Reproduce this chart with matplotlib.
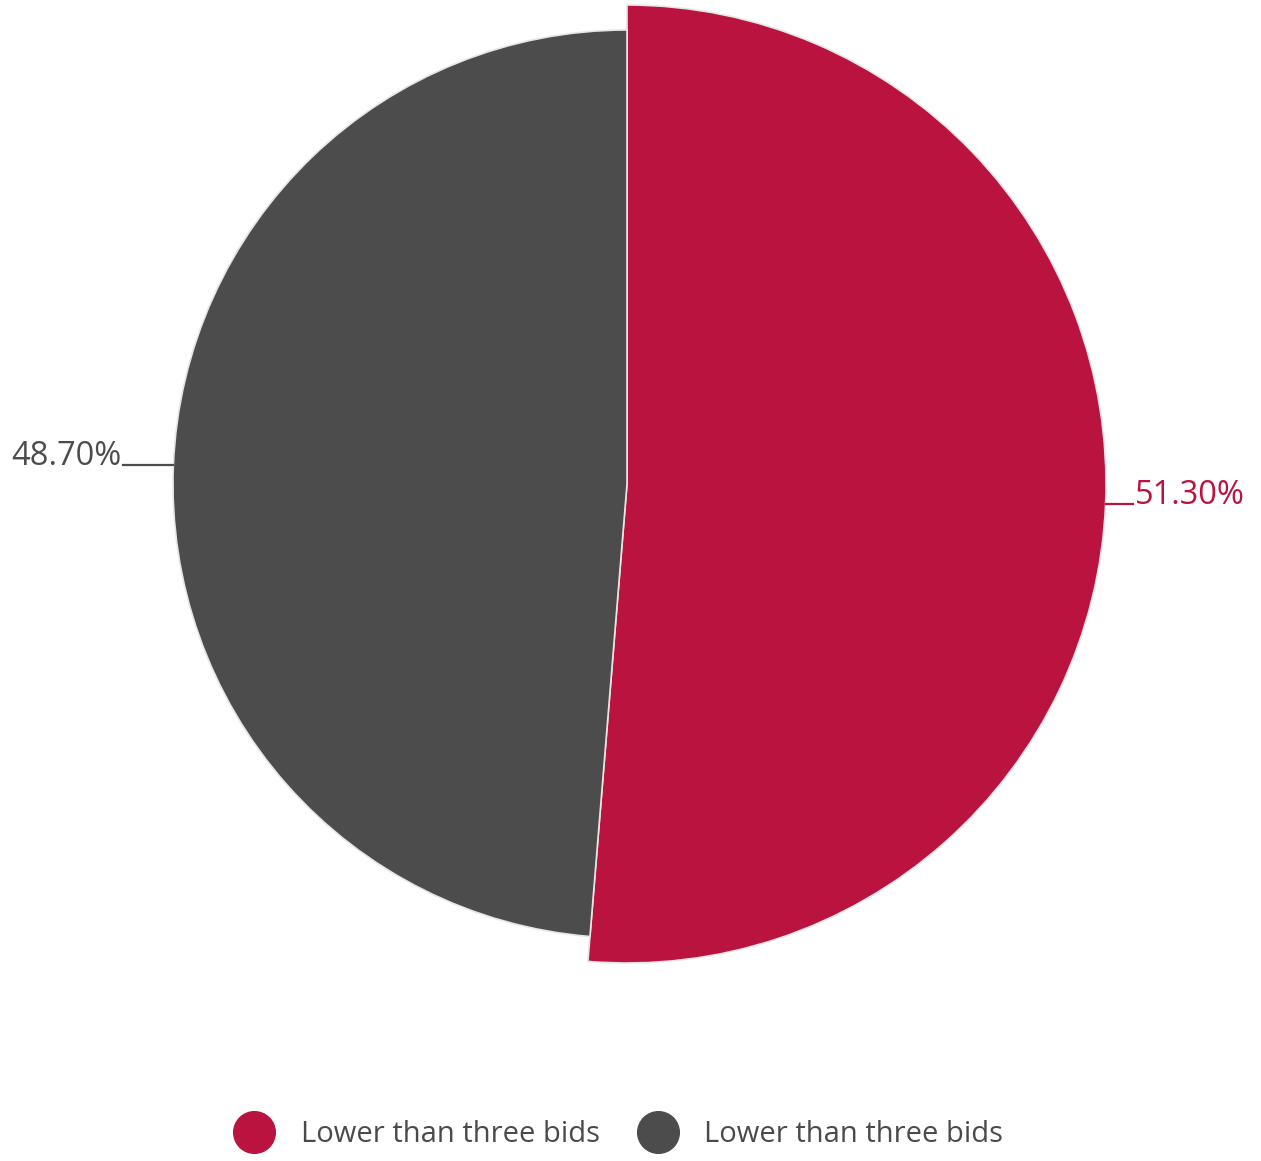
import matplotlib
matplotlib.use("Agg")
import matplotlib.pyplot as plt
from matplotlib.lines import Line2D
import numpy as np

plt.rcParams['font.family'] = ['Open Sans', 'DejaVu Sans']

# data
labels = ["Lower than three bids", "Lower than three bids"]
values = [51.3, 48.7]
colors = ["#BA133F", "#4C4C4C"]
radii = [479, 454]  # highlighted slice sticks out

W, H = 1261, 1161
cx, cy = 627, H - 484

fig = plt.figure(figsize=(W / 100, H / 100), dpi=100)
ax = fig.add_axes([0, 0, 1, 1])

wedges, _ = ax.pie(values, colors=colors, startangle=90, counterclock=False,
                   radius=max(radii), center=(cx, cy),
                   wedgeprops=dict(edgecolor="#e6e6e6", linewidth=1.2))
for w, r in zip(wedges, radii):
    w.set_radius(r)

ax.set_xlim(0, W)
ax.set_ylim(0, H)
ax.set_aspect('equal')
ax.axis('off')

# labels with short leader lines
for w, v, c, r in zip(wedges, values, colors, radii):
    mid = np.radians((w.theta1 + w.theta2) / 2)
    x0 = cx + r * np.cos(mid)
    y0 = cy + r * np.sin(mid)
    if np.cos(mid) >= 0:
        x1 = x0 + 27
        ha = "left"
        tx = x1 + 2
    else:
        x1 = x0 - 50
        ha = "right"
        tx = x1 - 2
    ax.plot([x0, x1], [y0, y0], color=c, lw=1.6)
    ax.text(tx, y0, f"{v:.2f}%", color=c, fontsize=23.5, ha=ha, va="baseline")

handles = [Line2D([], [], marker='o', linestyle='', markersize=30,
                  markerfacecolor=c, markeredgecolor=c) for c in colors]
leg = ax.legend(handles, labels, loc="center",
                bbox_to_anchor=(614 / W, (H - 1135) / H),
                ncol=2, frameon=False, fontsize=21, handletextpad=0.6,
                columnspacing=1.0, labelcolor="#4a4a4a")

fig.savefig("out.png", dpi=100)
